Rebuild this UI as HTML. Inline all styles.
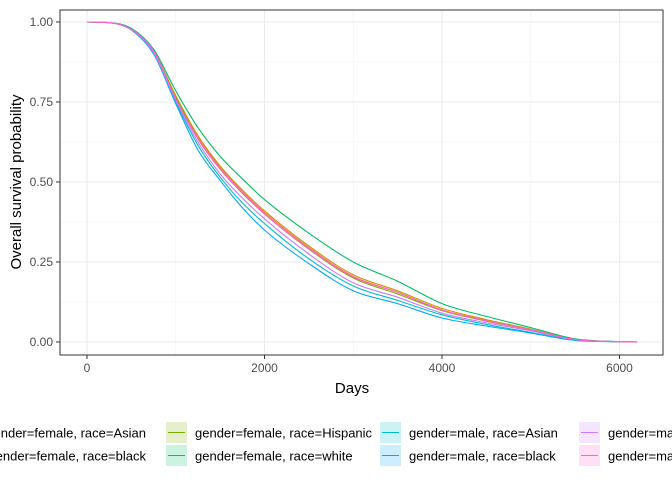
<!DOCTYPE html>
<html><head><meta charset="utf-8"><style>
body{margin:0;background:#fff;font-family:"Liberation Sans",Arial,sans-serif}
svg text{font-family:"Liberation Sans",Arial,sans-serif}
</style></head><body>
<svg id="chart" width="672" height="480" xmlns="http://www.w3.org/2000/svg">
<rect width="672" height="480" fill="#fff"/>
<g id="grid"></g>
<g id="series"></g>
<rect x="60" y="10" width="603" height="345" fill="none" stroke="#333" stroke-width="1"/>
<g id="axes"></g>
<text x="352" y="393" font-size="15" text-anchor="middle" fill="#000">Days</text>
<text transform="translate(21,182) rotate(-90)" font-size="15" text-anchor="middle" fill="#000">Overall survival probability</text>
<g id="legend"></g>
</svg>
<script>
const times=[0,250,500,750,1000,1250,1500,1750,2000,2500,3000,3500,4000,4500,5000,5500,6000,6200];
const femaleAsian=[1,.998,.978,.91,.765,.64,.545,.47,.405,.295,.205,.155,.1,.068,.04,.008,.001,0];
const femaleBlack=[1,.998,.978,.91,.77,.645,.55,.475,.41,.3,.21,.16,.105,.07,.04,.008,.001,0];
const femaleHispanic=[1,.998,.978,.91,.765,.635,.54,.465,.4,.29,.2,.15,.098,.065,.038,.008,.001,0];
const femaleWhite=[1,.998,.98,.915,.785,.67,.58,.51,.445,.34,.25,.19,.12,.08,.045,.01,.001,0];
const maleAsian=[1,.998,.976,.905,.75,.615,.515,.435,.37,.26,.175,.13,.085,.055,.03,.006,.001,0];
const maleBlack=[1,.998,.975,.9,.745,.6,.505,.42,.35,.245,.16,.12,.075,.05,.028,.005,.001,0];
const maleHispanic=[1,.998,.976,.905,.755,.625,.525,.45,.385,.275,.185,.14,.09,.06,.035,.007,.001,0];
const maleWhite=[1,.998,.977,.91,.76,.635,.54,.468,.4,.292,.203,.155,.1,.066,.038,.008,.001,0];
const seriesNames=["gender=female, race=Asian","gender=female, race=black","gender=female, race=Hispanic","gender=female, race=white","gender=male, race=Asian","gender=male, race=black","gender=male, race=Hispanic","gender=male, race=white"];
const xTicks=[0,2000,4000,6000];
const yTicks=[0,0.25,0.5,0.75,1];
const yTickLabels=["0.00","0.25","0.50","0.75","1.00"];

const colors=["#F8766D","#CD9600","#7CAE00","#00BE67","#00BFC4","#00A9FF","#C77CFF","#FF61CC"];
const allSeries=[femaleAsian,femaleBlack,femaleHispanic,femaleWhite,maleAsian,maleBlack,maleHispanic,maleWhite];
const NS="http://www.w3.org/2000/svg";
const X=d=>87+d*0.08875;
const Y=v=>342-v*320;
function mk(tag,attrs,parent,text){const e=document.createElementNS(NS,tag);for(const k in attrs)e.setAttribute(k,attrs[k]);if(text!==undefined)e.textContent=text;parent.appendChild(e);return e;}
function monoPath(xs,ys){const n=xs.length,d=[],m=[];for(let i=0;i<n-1;i++)d.push((ys[i+1]-ys[i])/(xs[i+1]-xs[i]));
m[0]=d[0];m[n-1]=d[n-2];for(let i=1;i<n-1;i++){m[i]=(d[i-1]*d[i]<=0)?0:(d[i-1]+d[i])/2;}
for(let i=0;i<n-1;i++){if(d[i]===0){m[i]=0;m[i+1]=0;continue;}const a=m[i]/d[i],b=m[i+1]/d[i],s=a*a+b*b;if(s>9){const t=3/Math.sqrt(s);m[i]=t*a*d[i];m[i+1]=t*b*d[i];}}
let p='M'+xs[0]+','+ys[0];for(let i=0;i<n-1;i++){const h=(xs[i+1]-xs[i])/3;p+=' C'+(xs[i]+h)+','+(ys[i]+m[i]*h)+' '+(xs[i+1]-h)+','+(ys[i+1]-m[i+1]*h)+' '+xs[i+1]+','+ys[i+1];}return p;}
const grid=document.getElementById('grid'),axes=document.getElementById('axes');
[1000,3000,5000].forEach(d=>{const l=mk('line',{x1:X(d),x2:X(d),y1:10,y2:355,stroke:'#f2f2f2','stroke-width':0.6},grid);

});
[0.125,0.375,0.625,0.875].forEach(v=>{const l=mk('line',{x1:60,x2:663,y1:Y(v),y2:Y(v),stroke:'#f2f2f2','stroke-width':0.6},grid);

});
xTicks.forEach(d=>{const l=mk('line',{x1:X(d),x2:X(d),y1:10,y2:355,stroke:'#ebebeb','stroke-width':1.1},grid);


const t=mk('line',{x1:X(d),x2:X(d),y1:355,y2:359,stroke:'#333'},axes);


const tx=mk('text',{x:X(d),y:372,'font-size':12,'text-anchor':'middle',fill:'#4d4d4d'},axes,String(d));

});
yTicks.forEach((v,i)=>{const l=mk('line',{x1:60,x2:663,y1:Y(v),y2:Y(v),stroke:'#ebebeb','stroke-width':1.1},grid);


const t=mk('line',{x1:56,x2:60,y1:Y(v),y2:Y(v),stroke:'#333'},axes);


const tx=mk('text',{x:53,y:Y(v)+4,'font-size':12,'text-anchor':'end',fill:'#4d4d4d'},axes,yTickLabels[i]);

});
const sg=document.getElementById('series');
allSeries.forEach((s,i)=>{const p=mk('path',{d:monoPath(times.map(X),s.map(Y)),fill:'none',stroke:colors[i],'stroke-width':1.1},sg);

});
const lg=document.getElementById('legend');
const cols=[-48,166,380,579];
seriesNames.forEach((n,i)=>{const c=Math.floor(i/2),r=i%2;const bx=cols[c],by=r?445:422;
const b=mk('rect',{x:bx,y:by,width:21,height:21,fill:colors[i],'fill-opacity':0.2},lg);


const l=mk('line',{x1:bx+2,x2:bx+19,y1:by+10.5,y2:by+10.5,stroke:colors[i],'stroke-width':1.1},lg);


const tx=c===0?mk('text',{x:146,y:by+15.5,'font-size':13,'text-anchor':'end',fill:'#000'},lg,n):mk('text',{x:bx+29,y:by+15.5,'font-size':13,fill:'#000'},lg,n);

});
</script>
</body></html>
